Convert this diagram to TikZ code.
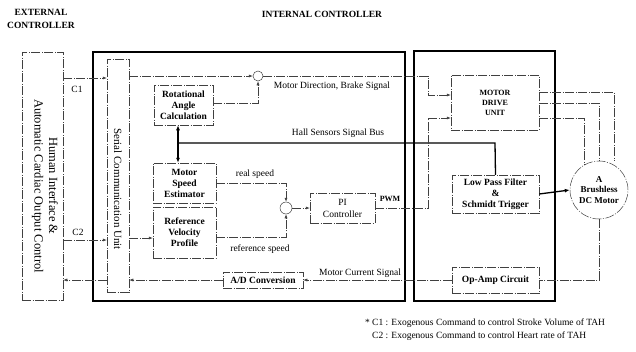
\documentclass[tikz,border=0pt]{standalone}
\usepackage{fontspec}
\setmainfont{Liberation Serif}
\usetikzlibrary{arrows.meta,calc}
\begin{document}
\begin{tikzpicture}[x=1pt,y=-1pt,
  box/.style={draw=black!75, line width=0.5pt, dash pattern=on 9pt off 1.5pt on 1pt off 1.5pt, inner sep=0pt, align=center, font=\fontsize{9.5}{11}\selectfont\bfseries},
  bigtext/.style={font=\fontsize{9.5}{11}\selectfont\bfseries},
  plainbox/.style={box, font=\fontsize{9.5}{12}\selectfont},
  frame/.style={draw, line width=1.1pt, inner sep=0pt},
  sumc/.style={circle, draw=black!75, line width=0.5pt, inner sep=0pt},
  conn/.style={draw=black!75, line width=0.5pt, dash pattern=on 9pt off 1.5pt on 1pt off 1.5pt, -{Latex[length=4pt,width=3pt]}},
  link/.style={conn, -},
  bus/.style={draw, line width=1.3pt},
  lbl/.style={inner sep=0pt, font=\fontsize{9.5}{11}\selectfont},
  head/.style={inner sep=0pt, align=center, font=\fontsize{9.5}{12.5}\selectfont\bfseries},
  vlab/.style={inner sep=0pt, align=center, rotate=-90, font=\fontsize{12.5}{14.5}\selectfont}
]
\useasboundingbox (0,0) rectangle (636,351);

% headers
\node[head] (hext) at (41,19) {EXTERNAL\\CONTROLLER};
\node[head] (hint) at (322,14) {INTERNAL CONTROLLER};

% big frames
\node[frame, minimum width=312pt, minimum height=249pt] (bigL) at (249,176.5) {};
\node[frame, minimum width=141pt, minimum height=250pt] (bigR) at (484.5,176) {};

% external controller
\node[box, minimum width=41pt, minimum height=248pt] (ext) at (42.5,176) {};
\node[vlab] (extlab) at (45,186) {Human Interface \&\\Automatic Cardiac Output Control};

% serial communication unit
\node[box, minimum width=22pt, minimum height=233pt] (ser) at (118,175.5) {};
\node[vlab, font=\fontsize{11}{13}\selectfont] (serlab) at (118,189) {Serial Communication Unit};

% blocks
\node[box, minimum width=59pt, minimum height=40pt] (rac) at (183.5,105) {Rotational\\Angle\\Calculation};
\node[box, minimum width=63pt, minimum height=40pt] (mse) at (184.5,183) {Motor\\Speed\\Estimator};
\node[box, minimum width=63pt, minimum height=51pt] (rvp) at (184.5,232.5) {Reference\\Velocity\\Profile};
\node[sumc, minimum size=10pt] (sum1) at (258,76) {};
\node[sumc, minimum size=12pt] (sum2) at (286,208) {};
\node[plainbox, minimum width=65pt, minimum height=30pt] (pi) at (342.5,208) {PI\\Controller};
\node[box, bigtext, minimum width=80pt, minimum height=16pt] (ad) at (263,280) {A/D Conversion};
\node[box, font=\fontsize{8}{10}\selectfont\bfseries, minimum width=88pt, minimum height=55pt] (mdu) at (495,102.5) {MOTOR\\DRIVE\\UNIT};
\node[box, bigtext, minimum width=87pt, minimum height=38pt] (lpf) at (495.5,194) {Low Pass Filter\\\&\\Schmidt Trigger};
\node[box, bigtext, minimum width=87pt, minimum height=26pt] (opa) at (495.5,280) {Op-Amp Circuit};
\node[sumc, box, minimum size=58pt, font=\fontsize{9}{10.5}\selectfont\bfseries] (motor) at (599,190) {A\\Brushless\\DC Motor};

% labels
\node[lbl] (c1) at (77,89) {C1};
\node[lbl] (c2) at (78,232) {C2};
\node[lbl] (mdb) at (332,86) {Motor Direction, Brake Signal};
\node[lbl] (hall) at (338,133) {Hall Sensors Signal Bus};
\node[lbl] (rs) at (255,174) {real speed};
\node[lbl] (refs) at (260,249) {reference speed};
\node[lbl, font=\fontsize{8}{10}\selectfont\bfseries] (pwm) at (390,199) {PWM};
\node[lbl] (mcs) at (360,273) {Motor Current Signal};
\node[lbl, anchor=west, align=left, font=\fontsize{9.5}{13}\selectfont] (note) at (372,329.5)
  {\llap{* }C1 : Exogenous Command to control Stroke Volume of TAH\\C2 : Exogenous Command to control Heart rate of TAH};

% coordinates for bends
\coordinate (b1) at (428,76);
\coordinate (b2) at (428,95);
\coordinate (pw1) at (428,208);
\coordinate (pw2) at (428,118);
\coordinate (hb) at (178,143);
\coordinate (hbe) at (495,143);

% connectors
\draw[conn] (ext.east |- 0,78) -- (ser.west |- 0,78);
\draw[conn] (ser.east |- 0,76) -- (sum1.west);
\draw[conn] (sum1.east) -- (b1) -- (b2) -- (mdu.west |- b2);
\draw[conn] (rac.east |- 0,103) -| (sum1.south);
\draw[bus, {Latex[length=5pt,width=4pt]}-{Latex[length=5pt,width=4pt]}] (rac.south -| hb) -- (mse.north -| hb);
\draw[bus] (hb) -- (hbe) -- (lpf.north);
\draw[conn] (mse.east |- 0,183) -| (sum2.north);
\draw[conn] (rvp.east |- 0,237) -| (sum2.south);
\draw[conn] (sum2.east) -- (pi.west);
\draw[conn] (pi.east) -- (pw1) -- (pw2) -- (mdu.west |- pw2);
\draw[link] (mdu.east |- 0,92) -- (614,92) -- (motor.north -| 614,0);
\draw[link] (mdu.east |- 0,103) -| (motor.north);
\draw[link] (mdu.east |- 0,118) -- (584,118) -- ($(motor.center)+(-15,-24.6)$);
\draw[bus, -{Latex[length=5pt,width=4pt]}] (lpf.east) -- (motor.west);
\draw[link] (motor.south) |- (opa.east);
\draw[conn] (opa.west) -- (ad.east);
\draw[conn] (ad.west) -- (ser.east |- ad.west);
\draw[conn] (ser.west |- ad.west) -- (ext.east |- ad.west);
\draw[conn] (ext.east |- 0,240) -- (ser.west |- 0,240);
\draw[conn] (ser.east |- 0,238) -- (rvp.west |- 0,238);
\end{tikzpicture}
\end{document}
